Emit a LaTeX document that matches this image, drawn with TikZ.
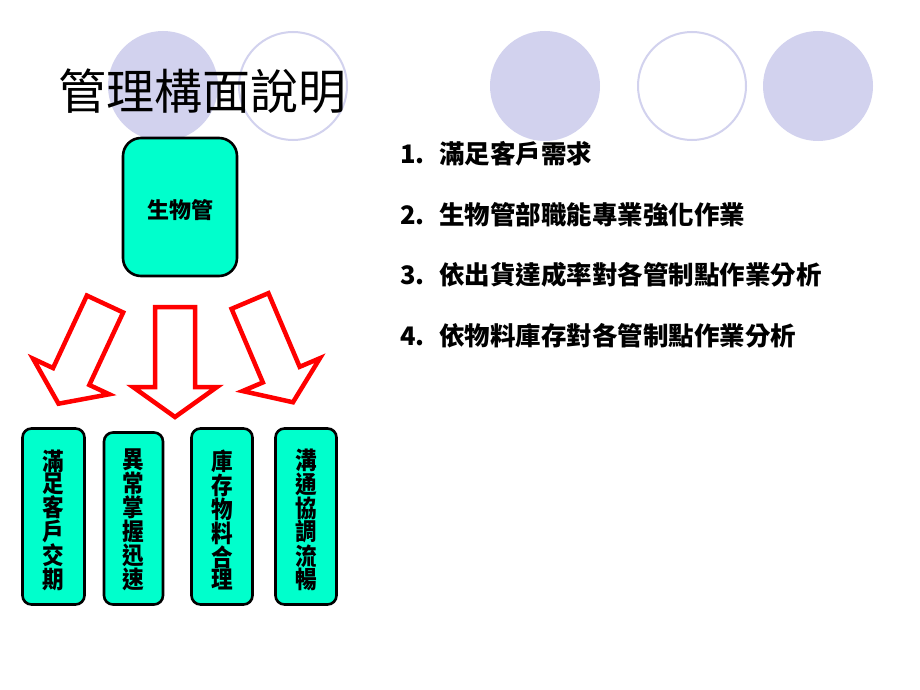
\documentclass[tikz,border=0pt]{standalone}
\usepackage{fontspec}
\setmainfont{Noto Sans CJK TC}
\newfontfamily\vfont[FakeStretch=0.9]{Noto Sans CJK TC}
\begin{document}
\begin{tikzpicture}[x=1pt,y=-1pt,
  deco/.style={fill={rgb,255:red,210;green,210;blue,238}, draw=none},
  decoring/.style={draw={rgb,255:red,210;green,210;blue,238}, line width=2pt, fill=white},
  tealbox/.style={draw=black, line width=2.6pt, fill={rgb,255:red,0;green,255;blue,204}, rounded corners=9pt, inner sep=0pt},
  bigarrow/.style={draw={rgb,255:red,255;green,0;blue,0}, line width=4.5pt, fill=white, line join=miter, miter limit=10},
  listitem/.style={anchor=west, inner sep=0pt, font=\fontsize{25.5}{28}\selectfont\bfseries},
  vtext/.style={font=\vfont\bfseries\fontsize{24}{22.4}\selectfont, align=center, inner sep=0pt}
]
\useasboundingbox (0,0) rectangle (920,690);
\fill[white] (0,0) rectangle (920,690);

% decorative circles
\fill[deco] (163,86) circle (55);
\draw[decoring] (293,86) circle (54);
\fill[deco] (545,86) circle (55);
\draw[decoring] (692,86) circle (54);
\fill[deco] (818,86) circle (55);

% title
\node[inner sep=0pt, font=\fontsize{48}{50}\selectfont] (title) at (202,91) {管理構面說明};

% top box
\node[tealbox, minimum width=114pt, minimum height=138pt, rounded corners=18pt] (bio) at (180,207) {};
\node[inner sep=0pt, font=\fontsize{22}{24}\selectfont\bfseries] (biotext) at (180,210) {生物管};

% block arrows (shape: tail at origin, pointing down)
\def\arrowshape{(-20,0) -- (20,0) -- (20,80) -- (42,80) -- (0,110) -- (-42,80) -- (-20,80) -- cycle}
\begin{scope}[shift={(105,304)}, rotate=-25]
  \draw[bigarrow] \arrowshape;
\end{scope}
\begin{scope}[shift={(175,307)}]
  \draw[bigarrow] \arrowshape;
\end{scope}
\begin{scope}[shift={(250,301)}, rotate=23]
  \draw[bigarrow] \arrowshape;
\end{scope}

% bottom boxes
\node[tealbox, minimum width=62pt, minimum height=176pt] (b1) at (53.5,516.5) {};
\node[tealbox, minimum width=59pt, minimum height=172pt] (b2) at (133.5,518.5) {};
\node[tealbox, minimum width=61pt, minimum height=176pt] (b3) at (222,516.5) {};
\node[tealbox, minimum width=61pt, minimum height=176pt] (b4) at (306,516.5) {};
\node[vtext] (t1) at (53.5,520) {滿\\足\\客\\戶\\交\\期};
\node[vtext] (t2) at (133.5,520) {異\\常\\掌\\握\\迅\\速};
\node[vtext] (t3) at (222,520) {庫\\存\\物\\料\\合\\理};
\node[vtext] (t4) at (306,520) {溝\\通\\協\\調\\流\\暢};

% list
\node[listitem] (l1) at (400,154) {\makebox[39pt][l]{1.}滿足客戶需求};
\node[listitem] (l2) at (400,215) {\makebox[39pt][l]{2.}生物管部職能專業強化作業};
\node[listitem] (l3) at (400,275) {\makebox[39pt][l]{3.}依出貨達成率對各管制點作業分析};
\node[listitem] (l4) at (400,336) {\makebox[39pt][l]{4.}依物料庫存對各管制點作業分析};
\end{tikzpicture}
\end{document}
